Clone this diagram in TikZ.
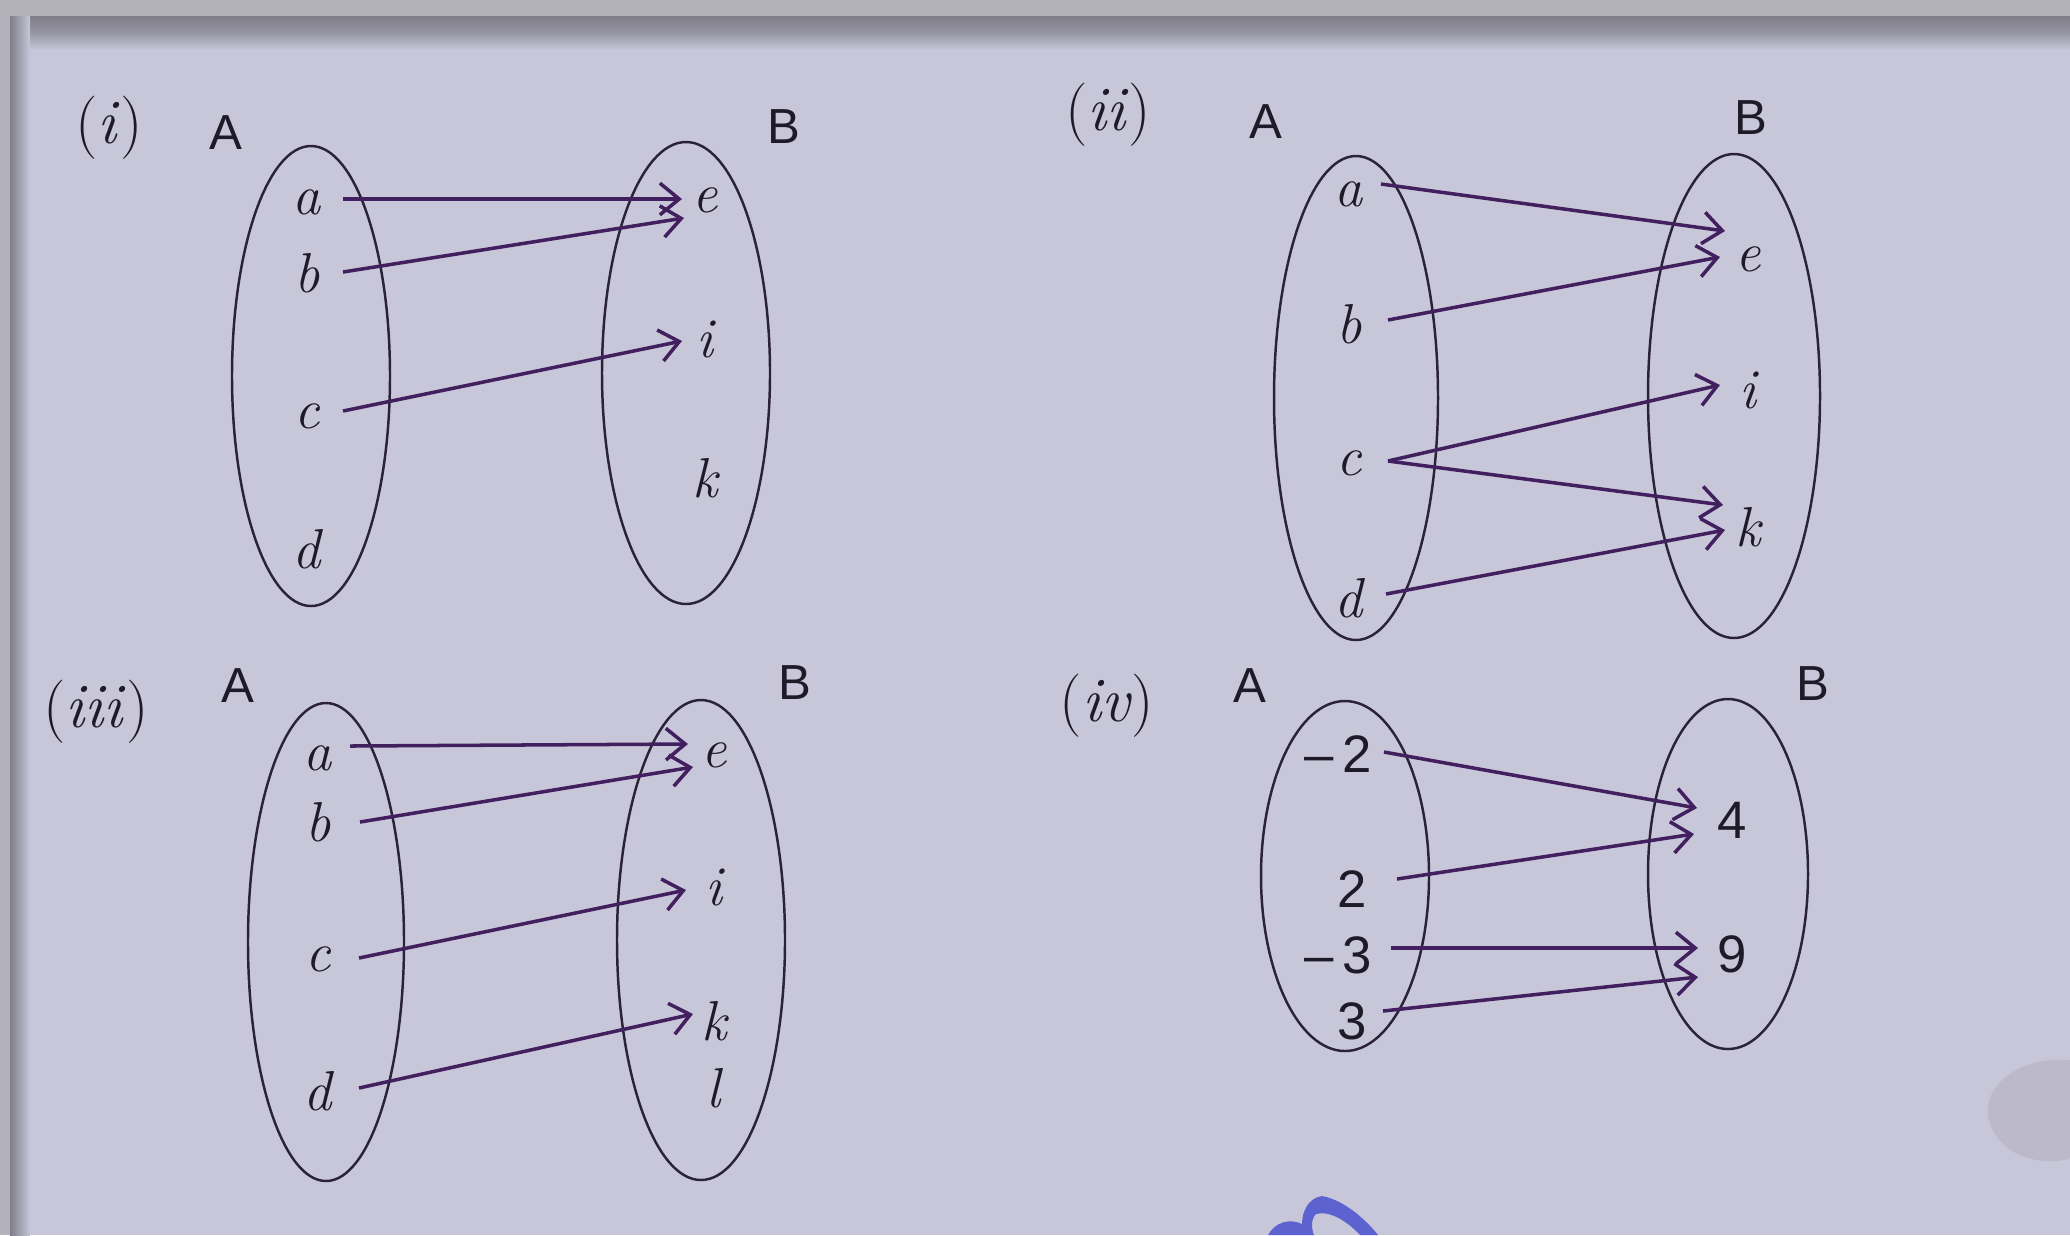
\documentclass[tikz,border=0pt]{standalone}
\usepackage{fontspec}
\newfontfamily\sansf{Liberation Sans}
\usetikzlibrary{arrows.meta}
\definecolor{bg}{HTML}{C8C7D9}
\definecolor{band}{HTML}{7E7D88}
\definecolor{outer}{HTML}{B3B2BA}
\definecolor{ink}{HTML}{2B2238}
\definecolor{arr}{HTML}{42205F}
\definecolor{txt}{HTML}{1E1A28}
\definecolor{logoblue}{HTML}{5C62D0}
\definecolor{blob}{HTML}{A8A2B0}
\tikzset{
  lbl/.style={font=\fontsize{16}{19}\selectfont\itshape\addfontfeatures{FakeBold=0.5}, text=txt, inner sep=0pt},
  num/.style={font=\sansf\fontsize{15}{18}\selectfont, text=txt, inner sep=0pt},
  setname/.style={font=\sansf\fontsize{14}{17}\selectfont, text=txt, inner sep=0pt},
  tag/.style={font=\fontsize{18}{21}\selectfont\addfontfeatures{FakeBold=0.4}, text=txt, inner sep=0pt},
  setel/.style={draw=ink, line width=0.7pt},
  map/.style={draw=arr, line width=1pt, -{Straight Barb[length=5.5pt,width=9pt,line width=1pt]}}
}
\begin{document}
\begin{tikzpicture}[x=0.01cm,y=-0.01cm]
\useasboundingbox (0,0) rectangle (2070,1235);
% background
\fill[bg] (0,0) rectangle (2070,1235);
\fill[outer] (0,0) rectangle (2070,16);
\fill[outer] (0,0) rectangle (10,1235);
\shade[top color=band, bottom color=band!70!bg] (10,16) rectangle (2070,32);
\shade[top color=band!70!bg, bottom color=bg] (10,32) rectangle (2070,50);
\shade[left color=band, right color=bg] (10,16) rectangle (30,1235);
\fill[blob, opacity=0.35] (2070,1060) .. controls (2000,1055) and (1960,1110) .. (2010,1150) .. controls (2035,1165) and (2060,1162) .. (2070,1158) -- cycle;
\fill[logoblue] (1268,1235) .. controls (1275,1222) and (1290,1218) .. (1302,1224)
  .. controls (1302,1212) and (1308,1198) .. (1322,1196)
  .. controls (1345,1200) and (1368,1222) .. (1378,1235) -- (1360,1235)
  .. controls (1348,1222) and (1330,1210) .. (1316,1214)
  .. controls (1310,1220) and (1312,1230) .. (1314,1235) -- cycle;

% ===== (i) =====
\node[tag] (ti) at (109,128) {(\textit{i})};
\node[setname] (iA) at (226,133) {A};
\node[setname] (iB) at (784,127) {B};
\draw[setel] (311,376) ellipse [x radius=79, y radius=230];
\draw[setel] (686,373) ellipse [x radius=84, y radius=231];
\node[lbl] (i-a) at (307,202) {a};
\node[lbl] (i-b) at (307,273) {b};
\node[lbl] (i-c) at (307,416) {c};
\node[lbl] (i-d) at (307,549) {d};
\node[lbl] (i-e) at (705,200) {e};
\node[lbl] (i-i) at (705,339) {i};
\node[lbl] (i-k) at (705,478) {k};
\coordinate (i-a0) at (343,199);
\coordinate (i-e1) at (682,199);
\coordinate (i-b0) at (343,272);
\coordinate (i-e2) at (684,218);
\coordinate (i-c0) at (343,411);
\coordinate (i-i1) at (682,341);
\draw[map] (i-a0) -- (i-e1);
\draw[map] (i-b0) -- (i-e2);
\draw[map] (i-c0) -- (i-i1);

% ===== (ii) =====
\node[tag] (tii) at (1108,115) {(\textit{ii})};
\node[setname] (iiA) at (1266,122) {A};
\node[setname] (iiB) at (1751,118) {B};
\draw[setel] (1356,398) ellipse [x radius=82, y radius=242];
\draw[setel] (1734,396) ellipse [x radius=86, y radius=242];
\node[lbl] (ii-a) at (1349,194) {a};
\node[lbl] (ii-b) at (1349,324) {b};
\node[lbl] (ii-c) at (1349,463) {c};
\node[lbl] (ii-d) at (1349,598) {d};
\node[lbl] (ii-e) at (1748,259) {e};
\node[lbl] (ii-i) at (1748,390) {i};
\node[lbl] (ii-k) at (1748,527) {k};
\coordinate (ii-a0) at (1381,184);
\coordinate (ii-e1) at (1725,231);
\coordinate (ii-b0) at (1388,320);
\coordinate (ii-e2) at (1720,257);
\coordinate (ii-c0) at (1388,461);
\coordinate (ii-i1) at (1720,385);
\coordinate (ii-k1) at (1723,505);
\coordinate (ii-d0) at (1386,594);
\coordinate (ii-k2) at (1725,530);
\draw[map] (ii-a0) -- (ii-e1);
\draw[map] (ii-b0) -- (ii-e2);
\draw[map] (ii-c0) -- (ii-i1);
\draw[map] (ii-c0) -- (ii-k1);
\draw[map] (ii-d0) -- (ii-k2);

% ===== (iii) =====
\node[tag] (tiii) at (96,712) {(\textit{iii})};
\node[setname] (iiiA) at (238,686) {A};
\node[setname] (iiiB) at (795,683) {B};
\draw[setel] (326,942) ellipse [x radius=78, y radius=239];
\draw[setel] (701,940) ellipse [x radius=84, y radius=240];
\node[lbl] (iii-a) at (318,758) {a};
\node[lbl] (iii-b) at (318,822) {b};
\node[lbl] (iii-c) at (318,959) {c};
\node[lbl] (iii-d) at (318,1091) {d};
\node[lbl] (iii-e) at (714,755) {e};
\node[lbl] (iii-i) at (714,887) {i};
\node[lbl] (iii-k) at (714,1021) {k};
\node[lbl] (iii-l) at (714,1088) {l};
\coordinate (iii-a0) at (350,746);
\coordinate (iii-e1) at (688,744);
\coordinate (iii-b0) at (360,822);
\coordinate (iii-e2) at (693,767);
\coordinate (iii-c0) at (359,958);
\coordinate (iii-i1) at (686,890);
\coordinate (iii-d0) at (359,1088);
\coordinate (iii-k1) at (693,1014);
\draw[map] (iii-a0) -- (iii-e1);
\draw[map] (iii-b0) -- (iii-e2);
\draw[map] (iii-c0) -- (iii-i1);
\draw[map] (iii-d0) -- (iii-k1);

% ===== (iv) =====
\node[tag] (tiv) at (1107,706) {(\textit{iv})};
\node[setname] (ivA) at (1250,686) {A};
\node[setname] (ivB) at (1813,684) {B};
\draw[setel] (1345,876) ellipse [x radius=84, y radius=175];
\draw[setel] (1728,874) ellipse [x radius=80, y radius=175];
\node[num] (iv-m2) at (1338,754) {–\,2};
\node[num] (iv-p2) at (1352,889) {2};
\node[num] (iv-m3) at (1338,955) {–\,3};
\node[num] (iv-p3) at (1352,1021) {3};
\node[num] (iv-4) at (1732,820) {4};
\node[num] (iv-9) at (1732,954) {9};
\coordinate (iv-m20) at (1384,752);
\coordinate (iv-41) at (1697,808);
\coordinate (iv-p20) at (1397,879);
\coordinate (iv-42) at (1694,834);
\coordinate (iv-m30) at (1391,948);
\coordinate (iv-91) at (1698,948);
\coordinate (iv-p30) at (1383,1011);
\coordinate (iv-92) at (1698,977);
\draw[map] (iv-m20) -- (iv-41);
\draw[map] (iv-p20) -- (iv-42);
\draw[map] (iv-m30) -- (iv-91);
\draw[map] (iv-p30) -- (iv-92);
\end{tikzpicture}
\end{document}
